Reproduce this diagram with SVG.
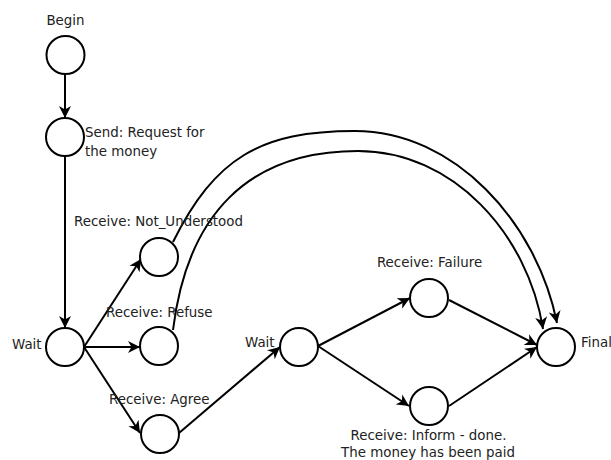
<svg xmlns="http://www.w3.org/2000/svg" width="611" height="460" viewBox="0 0 611 460">
<style>
.n{fill:#fff;stroke:#000;stroke-width:2}
.t{font-family:"DejaVu Sans",sans-serif;font-size:13.4px;fill:#222}
.e{fill:none;stroke:#000;stroke-width:2;marker-end:url(#ah)}
</style>
<defs>
<marker id="ah" markerUnits="userSpaceOnUse" markerWidth="14" markerHeight="14" viewBox="-12 -7 14 14" refX="0" refY="0" orient="auto">
<path d="M0,0 L-12,-6 L-8.5,0 L-12,6 Z" fill="#000"/>
</marker>
</defs>
<rect width="611" height="460" fill="#fff"/>
<g id="connectors">
<path class="e" d="M65,74 L65,118"/>
<path class="e" d="M65,156 L65,328"/>
<path class="e" d="M84,347 L141,259"/>
<path class="e" d="M84,347 L140,347"/>
<path class="e" d="M84,347 L140,433"/>
<path class="e" d="M179,433 L280,347"/>
<path class="e" d="M318,346 L410,298"/>
<path class="e" d="M318,346 L409,406"/>
<path class="e" d="M449,300 L537,345"/>
<path class="e" d="M449,406 L537,347"/>
<path class="e" d="M173,242 C215,158 260,131 355,131 C455,131 537,223 557,323"/>
<path class="e" d="M173,330 C187,215 248,151 358,151 C453,151 528,234 543,329"/>
</g>
<g id="begin"><circle class="n" cx="65.5" cy="55" r="19"/><text class="t" x="65.5" y="25" text-anchor="middle">Begin</text></g>
<g id="send"><circle class="n" cx="65" cy="137" r="19"/><text class="t" x="85" y="137">Send: Request for</text><text class="t" x="85" y="155.5">the money</text></g>
<g id="wait1"><circle class="n" cx="65" cy="347" r="19"/><text class="t" x="12" y="349">Wait</text></g>
<g id="notunderstood"><circle class="n" cx="159" cy="257" r="19"/><text class="t" x="74" y="226">Receive: Not_Understood</text></g>
<g id="refuse"><circle class="n" cx="159" cy="346" r="19"/><text class="t" x="106" y="317">Receive: Refuse</text></g>
<g id="agree"><circle class="n" cx="160" cy="434" r="19"/><text class="t" x="109" y="404">Receive: Agree</text></g>
<g id="wait2"><circle class="n" cx="299" cy="347" r="19"/><text class="t" x="245" y="347">Wait</text></g>
<g id="failure"><circle class="n" cx="429" cy="298" r="19"/><text class="t" x="429.5" y="267" text-anchor="middle">Receive: Failure</text></g>
<g id="inform"><circle class="n" cx="429" cy="406" r="19"/><text class="t" x="428.5" y="440" text-anchor="middle">Receive: Inform - done.</text><text class="t" x="428" y="457" text-anchor="middle">The money has been paid</text></g>
<g id="final"><circle class="n" cx="556" cy="347" r="19"/><text class="t" x="581" y="347">Final</text></g>
</svg>
